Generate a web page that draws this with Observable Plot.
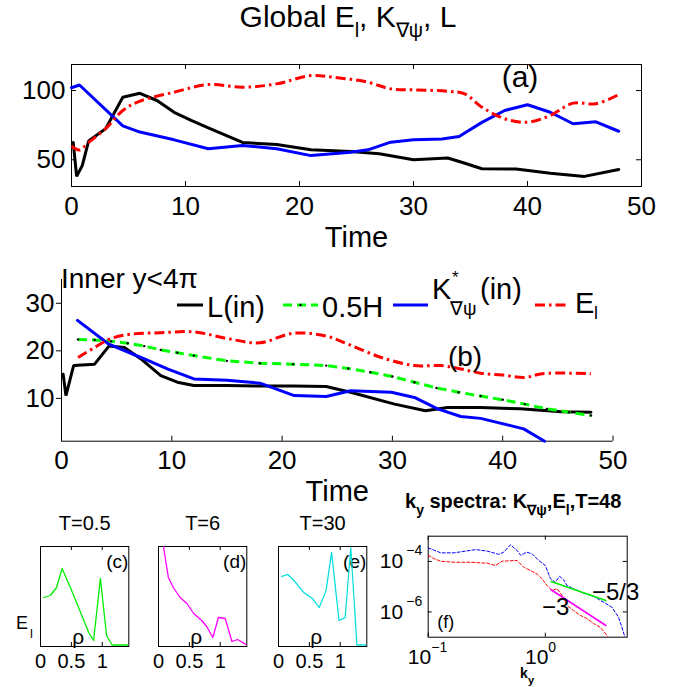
<!DOCTYPE html>
<html>
<head>
<meta charset="utf-8">
<script src="https://cdn.jsdelivr.net/npm/d3@7"></script>
<script src="https://cdn.jsdelivr.net/npm/@observablehq/plot@0.6"></script>
<style>
  html, body { margin: 0; padding: 0; background: #fff; }
  #fig { position: relative; width: 680px; height: 687px; overflow: hidden; background: #fff;
         font-family: "Liberation Sans", Arial, Helvetica, sans-serif; }
</style>
</head>
<body>
<div id="fig"></div>
<script>
// ---------------- DATA ----------------
// Panel (a): global quantities vs time
const timeTicks = [0, 10, 20, 30, 40, 50];
const aYTicks = [50, 100];
const tA_L = [0.15, 0.45, 0.95, 1.5, 3, 4.5, 6, 7.5, 9, 10.5, 12, 15, 18, 21, 24.5, 27, 30, 33, 34.3, 36, 39, 42, 45, 48];
const vA_L = [62.5, 38, 46, 63.5, 72.5, 95.2, 98, 92.8, 84.3, 78.4, 73.1, 62.5, 61, 57.2, 56, 54.3, 50, 51.3, 48, 43.5, 43.4, 40.3, 38, 43];
const tA_K = [0, 0.7, 4.5, 6, 9, 12, 15, 18, 21, 24.5, 26, 28, 30, 32.5, 34, 36, 38, 40, 42, 44, 46, 48];
const vA_K = [102, 104, 74.5, 70, 64.4, 58, 60.3, 58, 53, 55.5, 57.2, 62.7, 64.4, 65, 66.8, 77, 85.6, 89.7, 84.3, 76, 77.4, 70.6];
const tA_E = [0, 0.7, 1.5, 3, 4.5, 6, 9, 12, 15, 18, 21, 23, 26, 28, 30, 33, 34.5, 36, 38, 40, 42, 44, 46, 48];
const vA_E = [60, 57, 62.5, 72.5, 85.6, 92.3, 98.8, 104.3, 102.4, 104.8, 110.8, 109.6, 106, 101.2, 100.5, 99.5, 97.6, 88, 79.6, 77.1, 82, 90.9, 90.4, 97.1];

// Panel (b): inner region y<4pi
const bYTicks = [10, 20, 30];
const tB_L = [0.15, 0.4, 1.1, 3, 4.3, 5.7, 7.2, 9, 10.5, 12, 15, 18, 21, 24, 26.2, 30.2, 33, 35, 38, 41.6, 45.3, 48];
const vB_L = [15.1, 10.6, 16.9, 17.2, 21.0, 20.7, 18.3, 14.8, 13.4, 12.7, 12.7, 12.6, 12.6, 12.5, 11.3, 8.8, 7.4, 8.1, 8.1, 7.8, 7.2, 7.1];
const tB_H = [1.5, 3, 4.5, 6, 7.5, 9, 10.5, 12, 15, 18, 21, 24, 26, 28, 30, 32, 34, 36, 38, 40, 42, 44, 46, 48];
const vB_H = [22.4, 22.3, 22.0, 21.6, 21.0, 20.2, 19.6, 19.0, 17.9, 17.4, 17.2, 16.9, 16.3, 15.5, 14.6, 13.4, 12.2, 11.3, 10.5, 9.7, 8.8, 7.8, 7.1, 6.4];
const tB_K = [1.45, 4.3, 7.2, 9.6, 12, 15, 18, 21.1, 24, 26.2, 29.9, 32, 34.1, 36.2, 38, 41.9, 43.8];
const vB_K = [26.4, 21.4, 18.6, 16.2, 14.1, 13.8, 13.2, 10.6, 10.4, 11.6, 11.3, 10.2, 7.8, 6.2, 5.8, 3.6, 1.0];
const tB_E = [1.5, 3, 4.5, 6.3, 9, 12, 15, 18, 21, 24, 26.2, 29, 32, 34.4, 36.2, 38, 40, 42, 43.6, 48];
const vB_E = [18.6, 20.7, 22.6, 23.5, 23.8, 24.0, 22.6, 21.7, 23.7, 23.1, 21.2, 18.6, 16.9, 16.9, 16.2, 15.3, 14.9, 14.4, 15.2, 15.2];

// Panels (c)(d)(e): E_l radial profiles (arbitrary units)
const rTicks = [0, 0.5, 1];
const rTickLabels = ["0", "0.5", "1"];
const rC = [0.05, 0.16, 0.26, 0.35, 0.49, 0.65, 0.78, 0.86, 0.97, 1.07, 1.16, 1.43];
const vC = [0.49, 0.51, 0.59, 0.78, 0.58, 0.34, 0.14, 0.06, 0.68, 0.11, 0.015, 0.015];
const rD = [0.08, 0.16, 0.24, 0.35, 0.46, 0.57, 0.70, 0.78, 0.88, 0.97, 1.08, 1.19, 1.28, 1.43];
const vD = [1.0, 0.69, 0.59, 0.49, 0.43, 0.33, 0.26, 0.20, 0.09, 0.29, 0.28, 0.05, 0.07, 0.015];
const rE = [0.05, 0.15, 0.25, 0.41, 0.55, 0.66, 0.77, 0.86, 0.98, 1.08, 1.17, 1.27, 1.43];
const vE = [0.70, 0.72, 0.66, 0.54, 0.48, 0.39, 0.56, 0.94, 0.26, 0.29, 0.99, 0.015, 0.015];

// Panel (f): k_y spectra at T=48
const fXTicks = [0.1, 1];
const fXExp = ["\u22121", "0"];
const fYTicks = [1e-4, 1e-6];
const fYExp = ["\u22124", "\u22126"];
const kK = [0.100, 0.128, 0.166, 0.209, 0.254, 0.319, 0.401, 0.442, 0.504, 0.575, 0.617, 0.692, 0.771, 0.877, 1.0, 1.104, 1.216, 1.32, 1.432, 1.531, 1.738, 2.118, 2.576, 3.133, 3.698, 4.207, 4.498, 4.786];
const eK = [3.47e-4, 2.19e-4, 2.19e-4, 2.57e-4, 2.95e-4, 2.57e-4, 1.91e-4, 2.34e-4, 4.57e-4, 2.69e-4, 1.74e-4, 2.34e-4, 2.0e-4, 1.10e-4, 6.9e-5, 2.1e-5, 1.5e-5, 2.6e-5, 1.9e-5, 1.12e-5, 8.3e-6, 5.6e-6, 4.2e-6, 2.45e-6, 1.55e-6, 6.3e-7, 2.5e-7, 1.0e-7];
const kE = [0.1, 0.112, 0.128, 0.166, 0.229, 0.319, 0.375, 0.427, 0.575, 0.653, 0.745, 0.851, 0.933, 1.033, 1.14, 1.259, 1.387, 1.531, 1.738, 1.986, 2.265, 2.57, 2.938, 3.35, 3.45];
const eE = [1.74e-4, 1.29e-4, 1.02e-4, 9.3e-5, 9.3e-5, 8.5e-5, 6.9e-5, 1.02e-4, 1.10e-4, 5.9e-5, 4.4e-5, 3.2e-5, 2.1e-5, 1.12e-5, 7.1e-6, 8.3e-6, 4.6e-6, 1.8e-6, 1.15e-6, 7.4e-7, 5.5e-7, 3.5e-7, 2.5e-7, 1.2e-7, 1.0e-7];
const kFit = [1.12, 3.29];
const eFit53 = [1.62e-5, 2.82e-6];
const eFit3 = [7.6e-6, 2.9e-7];

// ---------------- HELPERS ----------------
const FONT = '"Liberation Sans", Arial, Helvetica, sans-serif';
const fig = document.getElementById("fig");
function put(el, left, top) {
  el.style.position = "absolute";
  el.style.left = left + "px";
  el.style.top = top + "px";
  fig.appendChild(el);
  return el;
}
const rec = (xs, ys, kx = "t", ky = "v") => xs.map((d, i) => ({[kx]: d, [ky]: ys[i]}));
const baseStyle = {fontFamily: FONT, background: "transparent", overflow: "visible", color: "black"};
const TK = 5;
const DASHDOT = "10,4,2.5,4";

// ---------------- PANEL (a) ----------------
{
  const W = 680, H = 250, ml = 71, mr = 39, mt = 64, mb = 64;
  const fw = W - ml - mr, fh = H - mt - mb;
  const p = Plot.plot({
    width: W, height: H, marginLeft: ml, marginRight: mr, marginTop: mt, marginBottom: mb,
    style: baseStyle,
    x: {domain: [0, 50]},
    y: {domain: [30.7, 118.8]},
    marks: [
      Plot.frame({stroke: "black", strokeWidth: 1}),
      Plot.tickX(timeTicks, {x: d => d, insetTop: fh - TK, stroke: "black"}),
      Plot.tickX(timeTicks, {x: d => d, insetBottom: fh - TK, stroke: "black"}),
      Plot.tickY(aYTicks, {y: d => d, insetRight: fw - TK, stroke: "black"}),
      Plot.tickY(aYTicks, {y: d => d, insetLeft: fw - TK, stroke: "black"}),
      Plot.line(rec(tA_L, vA_L), {x: "t", y: "v", stroke: "black", strokeWidth: 3, strokeLinejoin: "miter"}),
      Plot.line(rec(tA_K, vA_K), {x: "t", y: "v", stroke: "#0000ff", strokeWidth: 3, strokeLinejoin: "miter"}),
      Plot.line(rec(tA_E, vA_E), {x: "t", y: "v", stroke: "#ff0000", strokeWidth: 3, strokeDasharray: DASHDOT, strokeLinecap: "butt", curve: "catmull-rom"}),
      Plot.axisX({ticks: timeTicks, tickSize: 0, tickPadding: 10, fontSize: 26, label: null}),
      Plot.axisY({ticks: aYTicks, tickSize: 0, tickPadding: 6, fontSize: 26, label: null}),
      Plot.text(["Time"], {text: d => d, frameAnchor: "bottom", lineAnchor: "bottom", dy: 60, fontSize: 29})
    ]
  });
  put(p, 0, 0);
}

// ---------------- PANEL (b) ----------------
{
  const W = 680, H = 260, ml = 61, mr = 67.5, mt = 29, mb = 69.3;
  const fh = H - mt - mb;
  const p = Plot.plot({
    width: W, height: H, marginLeft: ml, marginRight: mr, marginTop: mt, marginBottom: mb,
    style: baseStyle,
    x: {domain: [0, 50]},
    y: {domain: [1, 35]},
    marks: [
      Plot.ruleX([0], {stroke: "black"}),
      Plot.ruleY([1], {stroke: "black"}),
      Plot.tickX(timeTicks, {x: d => d, insetTop: fh - TK, stroke: "black"}),
      Plot.line(rec(tB_L, vB_L), {x: "t", y: "v", stroke: "black", strokeWidth: 3, strokeLinejoin: "miter"}),
      Plot.line(rec(tB_H, vB_H), {x: "t", y: "v", stroke: "#00ff00", strokeWidth: 3, strokeDasharray: "9,5", strokeLinecap: "butt"}),
      Plot.dot(rec(tB_H, vB_H), {x: "t", y: "v", r: 1.2, fill: "black", stroke: null}),
      Plot.line(rec(tB_K, vB_K), {x: "t", y: "v", stroke: "#0000ff", strokeWidth: 3, strokeLinejoin: "miter"}),
      Plot.line(rec(tB_E, vB_E), {x: "t", y: "v", stroke: "#ff0000", strokeWidth: 3, strokeDasharray: DASHDOT, strokeLinecap: "butt", curve: "catmull-rom"}),
      Plot.axisX({ticks: timeTicks, tickSize: 0, tickPadding: 9, fontSize: 26, label: null}),
      Plot.axisY({ticks: bYTicks, tickSize: 5, tickPadding: 2, fontSize: 26, label: null}),
      Plot.text(["Time"], {text: d => d, frameAnchor: "bottom", lineAnchor: "bottom", dy: 60, fontSize: 29})
    ]
  });
  put(p, 0, 250);
}

// ---------------- PANELS (c)(d)(e) ----------------
function small(r, v, color, dash, title, tag, left) {
  const W = 135, H = 180, ml = 40, mr = 6.7, mt = 41, mb = 39;
  const fh = H - mt - mb;
  const p = Plot.plot({
    width: W, height: H, marginLeft: ml, marginRight: mr, marginTop: mt, marginBottom: mb,
    style: baseStyle,
    x: {domain: [0, 1.43]},
    y: {domain: [0, 1], axis: null},
    marks: [
      Plot.frame({stroke: "black"}),
      Plot.tickX(rTicks, {x: d => d, insetTop: fh - 4, stroke: "black"}),
      Plot.tickX(rTicks, {x: d => d, insetBottom: fh - 4, stroke: "black"}),
      Plot.text([tag], {text: d => d, frameAnchor: "top-right", textAnchor: "end", lineAnchor: "bottom", dx: -0.5, dy: 21, fontSize: 19}),
      Plot.text(["\u03c1"], {text: d => d, frameAnchor: "bottom", lineAnchor: "bottom", dx: -6.5, dy: -3, fontSize: 21}),
      Plot.line(rec(r, v, "r", "v"), {x: "r", y: "v", stroke: color, strokeWidth: 1.3, strokeDasharray: dash, clip: true}),
      Plot.axisX({ticks: rTicks, tickFormat: d => rTickLabels[rTicks.indexOf(d)], tickSize: 0, tickPadding: 7, fontSize: 20, label: null}),
      Plot.text([title], {text: d => d, frameAnchor: "top", lineAnchor: "bottom", dy: -16.7, fontSize: 20})
    ]
  });
  put(p, left, 505);
}
small(rC, vC, "#00ee00", null, "T=0.5", "(c)", 0);
small(rD, vD, "#ff00ff", null, "T=6", "(d)", 118.3);
small(rE, vE, "#00dddd", "2,1", "T=30", "(e)", 237.7);

// ---------------- PANEL (f) ----------------
{
  const W = 310, H = 172, ml = 57.7, mr = 53.3, mt = 20.7, mb = 50.3;
  const fw = W - ml - mr, fh = H - mt - mb;
  const p = Plot.plot({
    width: W, height: H, marginLeft: ml, marginRight: mr, marginTop: mt, marginBottom: mb,
    style: baseStyle,
    x: {type: "log", domain: [0.1, 5], axis: null},
    y: {type: "log", domain: [1e-7, 1e-3], axis: null},
    marks: [
      Plot.frame({stroke: "black"}),
      Plot.tickX(fXTicks, {x: d => d, insetTop: fh - 4, stroke: "black"}),
      Plot.tickX(fXTicks, {x: d => d, insetBottom: fh - 4, stroke: "black"}),
      Plot.tickY(fYTicks, {y: d => d, insetRight: fw - 4, stroke: "black"}),
      Plot.tickY(fYTicks, {y: d => d, insetLeft: fw - 4, stroke: "black"}),
      Plot.text(["(f)"], {text: d => d, frameAnchor: "bottom-left", textAnchor: "start", lineAnchor: "bottom", dx: 9, dy: -9, fontSize: 18}),
      Plot.line(rec(kK, eK, "k", "e"), {x: "k", y: "e", stroke: "#0000ff", strokeWidth: 1, strokeDasharray: "3,2", clip: true}),
      Plot.line(rec(kE, eE, "k", "e"), {x: "k", y: "e", stroke: "#ff0000", strokeWidth: 1, strokeDasharray: "3,2", clip: true}),
      Plot.line(rec(kFit, eFit53, "k", "e"), {x: "k", y: "e", stroke: "#00ee00", strokeWidth: 1.6}),
      Plot.line(rec(kFit, eFit3, "k", "e"), {x: "k", y: "e", stroke: "#ff00ff", strokeWidth: 1.6}),
      Plot.text(fYTicks, {y: d => d, text: () => "10", frameAnchor: "left", textAnchor: "end", dx: -25, lineAnchor: "bottom", dy: 7, fontSize: 21}),
      Plot.text(fYTicks, {y: d => d, text: (d, i) => fYExp[i], frameAnchor: "left", textAnchor: "end", dx: -6, lineAnchor: "bottom", dy: -6, fontSize: 14}),
      Plot.text(fXTicks, {x: d => d, text: () => "10", frameAnchor: "bottom", textAnchor: "end", dx: 3, lineAnchor: "bottom", dy: 27, fontSize: 21}),
      Plot.text(fXTicks, {x: d => d, text: (d, i) => fXExp[i], frameAnchor: "bottom", textAnchor: "start", dx: 3, lineAnchor: "bottom", dy: 15, fontSize: 14})
    ]
  });
  put(p, 370, 515);
}

// ---------------- OVERLAY: titles, legend, annotations ----------------
const ov = d3.create("svg")
  .attr("width", 680).attr("height", 687)
  .style("font-family", FONT).style("pointer-events", "none");
put(ov.node(), 0, 0);

function rich(x, y, segs, o = {}) {
  const t = ov.append("text").attr("x", x).attr("y", y)
    .attr("font-size", o.size || 20).attr("font-weight", o.weight || "normal")
    .attr("text-anchor", o.anchor || "start").attr("fill", "black");
  let cur = 0;
  for (const s of segs) {
    const sp = t.append("tspan").text(s.t);
    const sh = s.sh || 0;
    if (sh !== cur) { sp.attr("dy", sh - cur); cur = sh; }
    if (s.size) sp.attr("font-size", s.size);
  }
  return t;
}

// Title of (a)
rich(348, 27, [
  {t: "Global E"}, {t: "l", sh: 10, size: 20}, {t: ", K", sh: 0}, {t: "\u2207\u03c8", sh: 10, size: 20}, {t: ", L", sh: 0}
], {size: 30, anchor: "middle"});
rich(520, 87, [{t: "(a)"}], {size: 30, anchor: "middle"});

// Panel (b) texts and legend
rich(61, 288, [{t: "Inner y<4\u03c0"}], {size: 28});
rich(465, 366, [{t: "(b)"}], {size: 28, anchor: "middle"});

function swatch(x1, x2, y, color, dash) {
  ov.append("line").attr("x1", x1).attr("x2", x2).attr("y1", y).attr("y2", y)
    .attr("stroke", color).attr("stroke-width", 3).attr("stroke-dasharray", dash || null);
}
swatch(177, 203, 305, "black");
rich(207, 317, [{t: "L(in)"}], {size: 29});
swatch(283, 318, 305, "#00ff00", "9,5");
ov.append("circle").attr("cx", 300.5).attr("cy", 305).attr("r", 1.2).attr("fill", "black");
rich(322, 317, [{t: "0.5H"}], {size: 29});
swatch(393, 428, 305, "#0000ff");
rich(432, 299, [{t: "K"}], {size: 29});
rich(452, 283, [{t: "*"}], {size: 17});
rich(450, 315, [{t: "\u2207\u03c8"}], {size: 19});
rich(480, 299, [{t: "(in)"}], {size: 29});
swatch(535, 567, 305, "#ff0000", DASHDOT);
rich(575, 313, [{t: "E"}], {size: 29});
rich(594, 319, [{t: "l"}], {size: 18});

// Small panels y label
rich(16, 629, [{t: "E"}], {size: 18});
rich(30, 638, [{t: "l"}], {size: 13});

// Panel (f) title, x label, slope labels
rich(405, 508, [
  {t: "k"}, {t: "y", sh: 7, size: 14}, {t: " spectra: K", sh: 0}, {t: "\u2207\u03c8", sh: 7, size: 14}, {t: ",E", sh: 0}, {t: "l", sh: 7, size: 14}, {t: ",T=48", sh: 0}
], {size: 20, weight: "bold"});
rich(520, 678, [{t: "k"}], {size: 14, weight: "bold"});
rich(528, 684, [{t: "y"}], {size: 11, weight: "bold"});
rich(592, 600, [{t: "\u22125/3"}], {size: 24});
rich(542, 615, [{t: "\u22123"}], {size: 24});
</script>
</body>
</html>
